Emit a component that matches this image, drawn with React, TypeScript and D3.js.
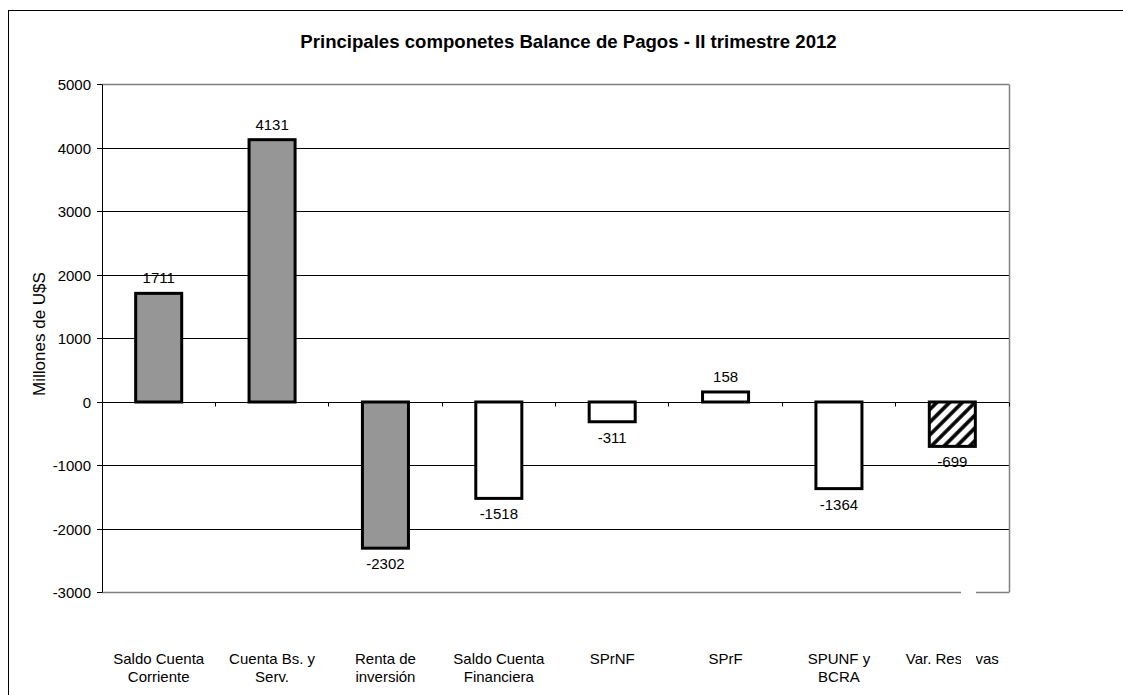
import React from "react";
import * as d3 from "d3";

const categories: string[][] = [
  ["Saldo Cuenta", "Corriente"],
  ["Cuenta Bs. y", "Serv."],
  ["Renta de", "inversión"],
  ["Saldo Cuenta", "Financiera"],
  ["SPrNF"],
  ["SPrF"],
  ["SPUNF y", "BCRA"],
  ["Var. Reservas"],
];
const values: number[] = [1711, 4131, -2302, -1518, -311, 158, -1364, -699];
const fills: string[] = ["gray", "gray", "gray", "white", "white", "white", "white", "hatch"];
const yTicks: number[] = [5000, 4000, 3000, 2000, 1000, 0, -1000, -2000, -3000];

const W = 1123;
const H = 695;
const FONT = "'Liberation Sans', Arial, Helvetica, sans-serif";

export default function App() {
  const left = 102;
  const right = 1009;
  const top = 84.5;
  const bottom = 592.5;
  const idx = categories.map((_, i) => String(i));
  const x = d3
    .scaleBand<string>()
    .domain(idx)
    .range([left, right])
    .paddingInner(0.594)
    .paddingOuter(0.297);
  const y = d3.scaleLinear().domain([-3000, 5000]).range([bottom, top]);
  const crisp = (v: number) => Math.round(v - 0.5) + 0.5;
  const y0 = crisp(y(0));
  const step = x.step();

  return (
    <svg
      width={W}
      height={H}
      style={{ position: "absolute", left: 0, top: 0, background: "#fff" }}
      fontFamily={FONT}
    >
      <defs>
        <pattern
          id="hatch"
          patternUnits="userSpaceOnUse"
          width={9}
          height={9}
          patternTransform="rotate(45)"
        >
          <rect width={9} height={9} fill="#fff" />
          <line x1={2} y1={0} x2={2} y2={9} stroke="#000" strokeWidth={3.6} />
        </pattern>
      </defs>
      <rect x={0} y={0} width={W} height={H} fill="#fff" />
      {/* outer chart frame */}
      <rect x={8.5} y={10.5} width={W + 20} height={H + 20} fill="none" stroke="#000" strokeWidth={1} />

      {/* title */}
      <text x={568.5} y={47.5} textAnchor="middle" fontSize={18.6} fontWeight="bold" fill="#000">
        Principales componetes Balance de Pagos - II trimestre 2012
      </text>

      {/* y axis title */}
      <text
        transform={`translate(44.5,334) rotate(-90)`}
        textAnchor="middle"
        fontSize={17}
        fill="#000"
      >
        Millones de U$S
      </text>

      {/* gridlines */}
      {yTicks.map((t) => {
        const yy = crisp(y(t));
        const isFrame = t === 5000 || t === -3000;
        return (
          <line
            key={"g" + t}
            x1={left}
            x2={right}
            y1={yy}
            y2={yy}
            stroke={isFrame ? "#808080" : "#000"}
            strokeWidth={isFrame ? 1.5 : 1}
          />
        );
      })}
      {/* right border of plot area */}
      <line x1={right + 0.5} x2={right + 0.5} y1={crisp(top)} y2={crisp(bottom)} stroke="#808080" strokeWidth={1.5} />

      {/* y axis */}
      <line x1={left + 0.5} x2={left + 0.5} y1={crisp(top)} y2={crisp(bottom)} stroke="#000" strokeWidth={1} />
      {yTicks.map((t) => {
        const yy = crisp(y(t));
        return (
          <g key={"t" + t}>
            <line x1={left - 5} x2={left} y1={yy} y2={yy} stroke="#000" strokeWidth={1} />
            <text x={91} y={yy + 5.5} textAnchor="end" fontSize={15} fill="#000">
              {t}
            </text>
          </g>
        );
      })}

      {/* category ticks on zero line */}
      {idx.map((k, i) => {
        const xx = crisp(left + step * (i + 1));
        return <line key={"ct" + k} x1={xx} x2={xx} y1={y0} y2={y0 + 4} stroke="#000" strokeWidth={1} />;
      })}

      {/* bars */}
      {values.map((v, i) => {
        const bx = x(String(i)) as number;
        const bw = x.bandwidth();
        const ya = y(Math.max(0, v));
        const yb = y(Math.min(0, v));
        const f = fills[i];
        return (
          <rect
            key={"b" + i}
            x={bx}
            y={ya}
            width={bw}
            height={yb - ya}
            fill={f === "gray" ? "#969696" : f === "hatch" ? "url(#hatch)" : "#fff"}
            stroke="#000"
            strokeWidth={3}
          />
        );
      })}

      {/* value labels */}
      {values.map((v, i) => {
        const cx = (x(String(i)) as number) + x.bandwidth() / 2;
        const yy = v >= 0 ? y(v) - 10 : y(v) + 21;
        return (
          <text key={"v" + i} x={cx} y={yy} textAnchor="middle" fontSize={15} fill="#000">
            {v}
          </text>
        );
      })}

      {/* category labels */}
      {categories.map((lines, i) => {
        const cx = (x(String(i)) as number) + x.bandwidth() / 2;
        return (
          <text key={"c" + i} x={cx} textAnchor="middle" fontSize={15} fill="#000">
            {lines.map((ln, j) => (
              <tspan key={j} x={cx} y={663.5 + j * 18.5}>
                {ln}
              </tspan>
            ))}
          </text>
        );
      })}

      {/* white occluding strip as in the reference */}
      <rect x={961} y={588} width={15} height={H - 588} fill="#fff" />
    </svg>
  );
}
